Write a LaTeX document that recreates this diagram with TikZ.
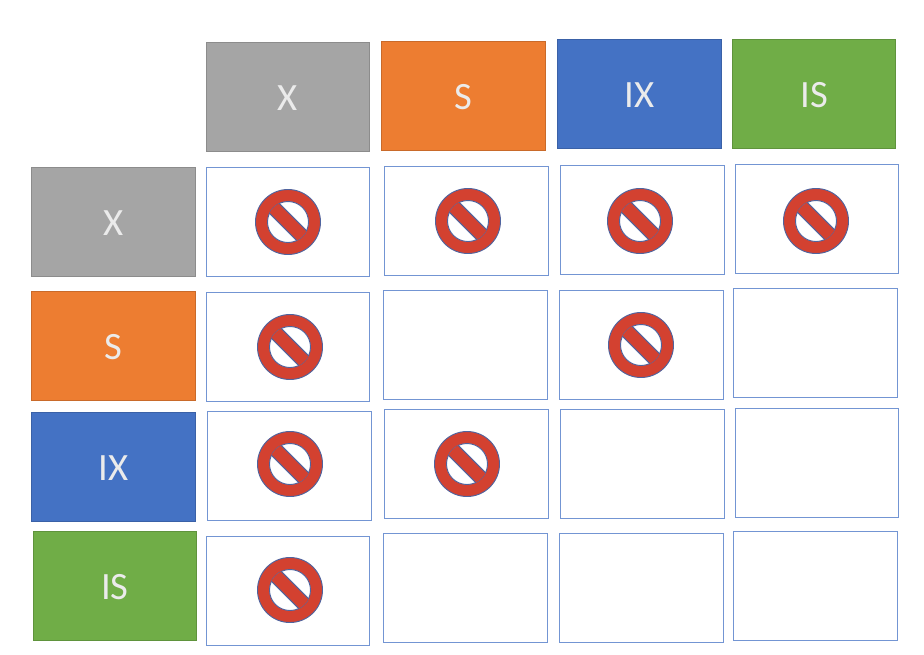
\documentclass[tikz,border=0pt]{standalone}
\usepackage{fontspec}
\setmainfont{Carlito}
\definecolor{lockgray}{HTML}{A5A5A5}
\definecolor{lockorange}{HTML}{ED7D31}
\definecolor{lockblue}{HTML}{4472C4}
\definecolor{lockgreen}{HTML}{70AD47}
\definecolor{signred}{HTML}{D34130}
\definecolor{signedge}{HTML}{4F649F}
\tikzset{
  lockbox/.style={draw=#1!85!black, fill=#1, line width=0.6pt, minimum width=122.5pt, minimum height=82pt,
    inner sep=0pt, outer sep=0pt, text=white!92!black, font=\fontsize{29}{29}\selectfont,
    text height=20.5pt, text depth=0pt},
  cellbox/.style={draw=lockblue!75!white, fill=white, line width=0.7pt, minimum width=122.5pt, minimum height=82pt,
    inner sep=0pt, outer sep=0pt},
  nosign/.pic={
    % Ring with a bar across it
    \fill[signred, draw=signedge, line width=0.7pt] (0,0) circle (32.5);
    \fill[white, draw=signedge, line width=0.7pt] (0,0) circle (20.5);
    \begin{scope}
      \clip (0,0) circle (20.5);
      \fill[signred, draw=signedge, line width=0.7pt, rotate=-45] (-30,-7) rectangle (30,7);
    \end{scope}
  }
}
\begin{document}
\begin{tikzpicture}[x=0.75pt, y=-0.75pt]
  \useasboundingbox (0,0) rectangle (924,654);

  % Column heads
  \node[lockbox=lockgray]   (headX)  at (288,97)  {X};
  \node[lockbox=lockorange] (headS)  at (463.5,96)    {S};
  \node[lockbox=lockblue]   (headIX) at (639.5,94)    {IX};
  \node[lockbox=lockgreen]  (headIS) at (814,94)  {IS};

  % Row heads
  \node[lockbox=lockgray]   (rowX)  at (113.5,222)  {X};
  \node[lockbox=lockorange] (rowS)  at (113.5,346)  {S};
  \node[lockbox=lockblue]   (rowIX) at (113.5,467)  {IX};
  \node[lockbox=lockgreen]  (rowIS) at (115,586)  {IS};

  % Cells
  \foreach \name/\x/\y in {XX/288/222, XS/466.5/221, XIX/642.5/220, XIS/817/219,
                           SX/288/347, SS/465.5/345, SIX/641.5/345, SIS/815.5/343,
                           IXX/289.5/466, IXS/466.5/464, IXIX/642.5/464, IXIS/817/463,
                           ISX/288/591, ISS/465.5/588, ISIX/641.5/588, ISIS/815.5/586}
    \node[cellbox] (cell\name) at (\x,\y) {};

  % Blocked pairs
  \foreach \x/\y in {288/222, 468/221, 640/221, 816/221,
                     290/347, 641/345,
                     290/464, 467/464,
                     290/590}
    \pic at (\x,\y) {nosign};
\end{tikzpicture}
\end{document}
